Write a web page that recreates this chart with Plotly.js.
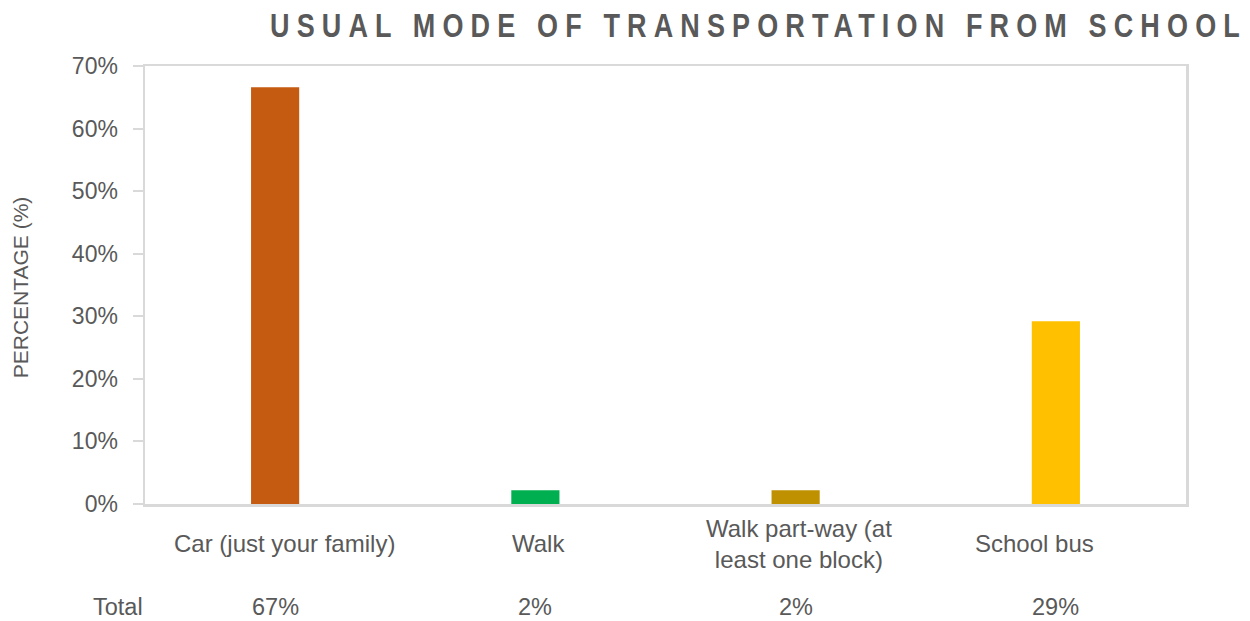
<!DOCTYPE html>
<html>
<head>
<meta charset="utf-8">
<script src="https://cdn.plot.ly/plotly-3.0.1.min.js"></script>
<style>html,body{margin:0;padding:0;background:#fff;}#chart{width:1250px;height:621px;}</style>
</head>
<body>
<div id="chart"></div>
<script>
const categories = ["Car (just your family)", "Walk", "Walk part-way (at<br>least one block)", "School bus"];
const values = [66.6, 2.2, 2.2, 29.2];
const barColors = ["#C55A11", "#00B050", "#BF9000", "#FFC000"];
const tableRowLabel = "Total";
const tickValues = [0, 10, 20, 30, 40, 50, 60, 70];
const titleText = "USUAL MODE OF TRANSPORTATION FROM SCHOOL";
const yTitleText = "PERCENTAGE (%)";

const textColor = "#595959";
const fontFam = "Arial, 'Liberation Sans', sans-serif";
const labelShifts = [9, 3, 3, -21];

const annotations = [];
categories.forEach((c, i) => {
  annotations.push({x: i, xref: "x", y: -0.0913, yref: "paper", text: c, showarrow: false, xshift: labelShifts[i],
    xanchor: "center", yanchor: "middle", font: {size: 24, color: textColor, family: fontFam}});
  annotations.push({x: i, xref: "x", y: -0.235, yref: "paper", text: Math.round(values[i]) + "%", showarrow: false,
    xanchor: "center", yanchor: "middle", font: {size: 23.5, color: textColor, family: fontFam}});
});
annotations.push({x: -0.026, xref: "paper", y: -0.235, yref: "paper", text: tableRowLabel, showarrow: false,
  xanchor: "center", yanchor: "middle", font: {size: 23.5, color: textColor, family: fontFam}});
annotations.push({x: -0.12, xref: "paper", y: 0.495, yref: "paper", text: yTitleText, showarrow: false, textangle: -90,
  xanchor: "center", yanchor: "middle", font: {size: 21, color: textColor, family: fontFam}});

const trace = {
  type: "bar",
  x: categories.map((c, i) => i),
  y: values,
  width: 0.185,
  marker: {color: barColors},
  hoverinfo: "skip"
};

const layout = {
  width: 1250, height: 621,
  margin: {l: 145, r: 64, t: 66, b: 117},
  paper_bgcolor: "#fff", plot_bgcolor: "#fff",
  showlegend: false,
  title: {text: "<b>" + titleText + "</b>", xref: "container", yref: "container", x: 0.216, xanchor: "left",
    y: 0.958, yanchor: "middle",
    font: {size: 27, color: textColor, family: fontFam}},
  xaxis: {
    range: [-0.5, 3.5], showticklabels: false, ticks: "", showgrid: false, zeroline: false,
    showline: true, mirror: true, linecolor: "#D9D9D9", linewidth: 2.5, fixedrange: true
  },
  yaxis: {
    range: [0, 70], tickvals: tickValues, ticktext: tickValues.map(v => v + "%"),
    ticks: "outside", ticklen: 10, tickwidth: 2, tickcolor: "#D9D9D9",
    showgrid: false, zeroline: false, showline: true, mirror: true, linecolor: "#D9D9D9", linewidth: 2.5,
    tickfont: {size: 23, color: textColor, family: fontFam}, ticklabelstandoff: 10, fixedrange: true
  },
  annotations: annotations
};

Plotly.newPlot("chart", [trace], layout, {displayModeBar: false, staticPlot: true}).then(gd => {
  const t = gd.querySelector(".gtitle");
  if (t) {
    t.style.letterSpacing = "0px";
    const natural = t.getComputedTextLength();
    const n = titleText.length - 1;
    const target = 970;
    const ls = Math.max(0, (target - natural) / n);
    t.style.letterSpacing = ls + "px";
    const r = t.getBoundingClientRect();
    const gr = gd.getBoundingClientRect();
    const cy = (r.top + r.bottom) / 2 - gr.top;
    const existing = t.getAttribute("transform") || "";
    t.setAttribute("transform", "translate(0," + cy + ") scale(1,1.2) translate(0," + (-cy) + ") " + existing);
  }
});
</script>
</body>
</html>
